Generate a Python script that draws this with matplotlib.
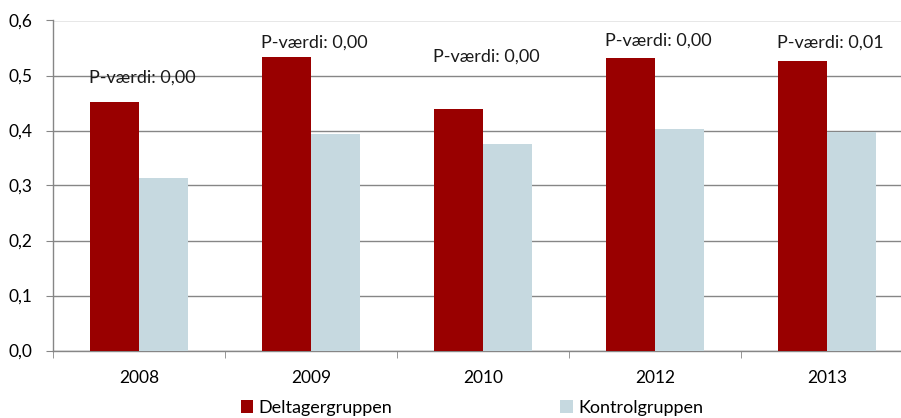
import numpy as np
import matplotlib.pyplot as plt
from matplotlib.ticker import FuncFormatter, FixedLocator

# Data
years = ['2008', '2009', '2010', '2012', '2013']
deltager = [0.452, 0.533, 0.440, 0.531, 0.526]
kontrol = [0.314, 0.393, 0.375, 0.403, 0.398]
p_labels = ['P-værdi: 0,00', 'P-værdi: 0,00', 'P-værdi: 0,00', 'P-værdi: 0,00', 'P-værdi: 0,01']
p_label_y = [0.497, 0.559, 0.534, 0.563, 0.559]

RED = '#990000'
BLUE = '#C6D9E0'
GRID = '#868686'

plt.rcParams['font.family'] = ['Lato', 'DejaVu Sans']
plt.rcParams['font.size'] = 12.5

fig = plt.figure(figsize=(9.01, 4.18), dpi=100)
ax = fig.add_axes([53 / 901, 67.5 / 418, 860 / 901, 330 / 418])

x = np.arange(len(years))
w = 0.285
ax.bar(x - w / 2, deltager, w, color=RED, label='Deltagergruppen', zorder=3)
ax.bar(x + w / 2, kontrol, w, color=BLUE, label='Kontrolgruppen', zorder=3)

for xi, txt, yy in zip(x, p_labels, p_label_y):
    ax.text(xi + 0.02, yy, txt, ha='center', va='center', fontsize=13, color='#1a1a1a')

ax.set_xlim(-0.5, len(years) - 0.5)
ax.set_ylim(0, 0.6)
ax.set_yticks(np.arange(0, 0.61, 0.1))
ax.yaxis.set_major_formatter(FuncFormatter(lambda v, p: f'{v:.1f}'.replace('.', ',')))
ax.yaxis.grid(True, color=GRID, linewidth=1)
ax.set_axisbelow(True)

ax.set_xticks(x)
ax.set_xticklabels(years)
ax.xaxis.set_minor_locator(FixedLocator(np.arange(-0.5, len(years), 1.0)))
ax.tick_params(axis='x', which='major', length=0, pad=14)
ax.tick_params(axis='x', which='minor', length=5, color=GRID, direction='out')
ax.tick_params(axis='y', length=5, color=GRID, direction='out', pad=10)

for s in ['top', 'right']:
    ax.spines[s].set_visible(False)
for s in ['left', 'bottom']:
    ax.spines[s].set_color(GRID)
    ax.spines[s].set_linewidth(1)

fig.legend(loc='center', bbox_to_anchor=(0.524, 0.024), ncol=2, frameon=False,
           handlelength=0.7, handleheight=0.7, handletextpad=0.3,
           columnspacing=9.3, fontsize=13)

fig.savefig('out.png', dpi=100)
